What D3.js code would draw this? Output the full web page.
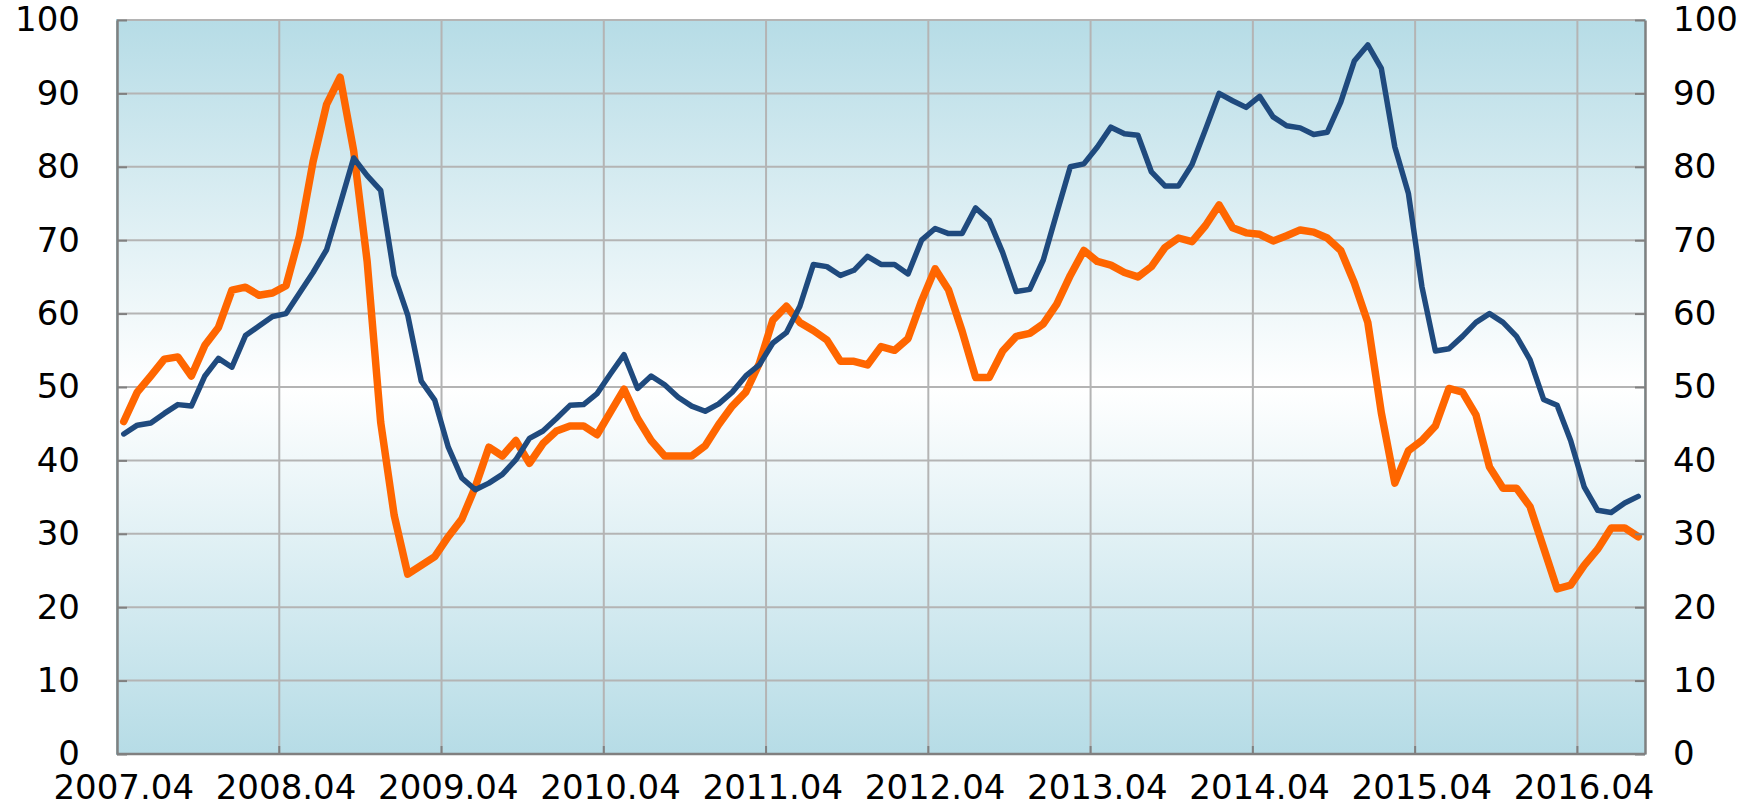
<!DOCTYPE html>
<html>
<head>
<meta charset="utf-8">
<script src="https://cdn.jsdelivr.net/npm/d3@7"></script>
<style>
  body { margin: 0; background: #fff; }
  svg { display: block; }
  text { font-family: "DejaVu Sans", sans-serif; fill: #000; }
</style>
</head>
<body>
<svg></svg>
<script>
// Month categories, 2007.04 .. 2016.08
const categories = d3.timeMonth
  .range(new Date(2007, 3, 1), new Date(2016, 8, 1))
  .map(d3.timeFormat("%Y.%m"));

const tickLabels = ["2007.04", "2008.04", "2009.04", "2010.04", "2011.04",
  "2012.04", "2013.04", "2014.04", "2015.04", "2016.04"];

const yTicks = [0, 10, 20, 30, 40, 50, 60, 70, 80, 90, 100];

// dark blue series
const blueValues = [
  43.6, 44.8, 45.1, 46.4, 47.6, 47.4, 51.5, 53.9, 52.7, 57.0,
  58.3, 59.6, 60.0, 62.8, 65.6, 68.7, 74.9, 81.2, 78.8, 76.8,
  65.2, 59.8, 50.8, 48.2, 41.8, 37.6, 36.0, 36.9, 38.1, 40.1,
  43.0, 44.0, 45.7, 47.5, 47.6, 49.1, 51.8, 54.4, 49.8, 51.5,
  50.3, 48.6, 47.4, 46.7, 47.7, 49.3, 51.5, 53.0, 56.0, 57.4,
  61.0, 66.7, 66.4, 65.2, 65.9, 67.8, 66.7, 66.7, 65.4, 70.0,
  71.6, 70.9, 70.9, 74.4, 72.7, 68.3, 63.0, 63.3, 67.3, 73.7,
  80.0, 80.4, 82.7, 85.4, 84.5, 84.3, 79.3, 77.4, 77.4, 80.3,
  85.1, 90.0, 89.0, 88.1, 89.6, 86.8, 85.6, 85.3, 84.4, 84.7,
  88.8, 94.4, 96.6, 93.4, 82.7, 76.4, 63.7, 54.9, 55.2, 56.9,
  58.8, 60.0, 58.8, 56.9, 53.7, 48.3, 47.5, 42.7, 36.4, 33.2,
  32.9, 34.2, 35.1
];

// orange series
const orangeValues = [
  45.3, 49.3, 51.5, 53.8, 54.1, 51.5, 55.7, 58.1, 63.2, 63.6,
  62.5, 62.8, 63.8, 70.6, 80.7, 88.5, 92.2, 82.2, 67.1, 45.2,
  32.5, 24.5, 25.7, 26.9, 29.6, 32.0, 36.4, 41.8, 40.6, 42.7,
  39.6, 42.3, 44.0, 44.7, 44.7, 43.5, 46.6, 49.7, 45.7, 42.7,
  40.6, 40.6, 40.6, 42.0, 44.9, 47.4, 49.3, 53.2, 59.1, 61.0,
  58.8, 57.7, 56.4, 53.5, 53.5, 53.0, 55.5, 55.0, 56.6, 61.7,
  66.1, 63.2, 57.6, 51.3, 51.3, 54.9, 56.9, 57.3, 58.6, 61.3,
  65.2, 68.6, 67.1, 66.6, 65.6, 65.0, 66.4, 69.0, 70.3, 69.8,
  72.0, 74.8, 71.7, 71.0, 70.8, 69.9, 70.6, 71.4, 71.1, 70.3,
  68.6, 64.2, 58.8, 46.5, 36.9, 41.3, 42.7, 44.7, 49.8, 49.3,
  46.2, 39.1, 36.2, 36.2, 33.7, 28.1, 22.5, 23.0, 25.7, 27.9,
  30.8, 30.8, 29.6
];

const W = 1761, H = 806;
const plot = { l: 117, r: 1645, t: 20, b: 754 };

const svg = d3.select("svg").attr("width", W).attr("height", H);

const x = d3.scaleBand().domain(categories).range([plot.l, plot.r]);
const y = d3.scaleLinear().domain([0, 100]).range([plot.b, plot.t]);

// background gradient
const grad = svg.append("defs").append("linearGradient")
  .attr("id", "bg").attr("x1", 0).attr("y1", 0).attr("x2", 0).attr("y2", 1);
grad.append("stop").attr("offset", "0%").attr("stop-color", "#b6dce6");
grad.append("stop").attr("offset", "50%").attr("stop-color", "#ffffff");
grad.append("stop").attr("offset", "100%").attr("stop-color", "#b6dce6");

svg.append("rect")
  .attr("x", plot.l).attr("y", plot.t)
  .attr("width", plot.r - plot.l).attr("height", plot.b - plot.t)
  .attr("fill", "url(#bg)")
  .attr("stroke", "#a6d6e0").attr("stroke-width", 2);

// grid
svg.append("g").selectAll("line")
  .data(yTicks.slice(1))
  .join("line")
    .attr("x1", plot.l).attr("x2", plot.r)
    .attr("y1", d => y(d)).attr("y2", d => y(d))
    .attr("stroke", "#b4b4b4").attr("stroke-width", 2);

svg.append("g").selectAll("line")
  .data(tickLabels.slice(1))
  .join("line")
    .attr("x1", d => x(d)).attr("x2", d => x(d))
    .attr("y1", plot.t).attr("y2", plot.b)
    .attr("stroke", "#b4b4b4").attr("stroke-width", 2);

// small bottom ticks at grid lines
svg.append("g").selectAll("line")
  .data(tickLabels.slice(1))
  .join("line")
    .attr("x1", d => x(d)).attr("x2", d => x(d))
    .attr("y1", plot.b).attr("y2", plot.b - 8)
    .attr("stroke", "#808080").attr("stroke-width", 2);

// lines
const line = d3.line()
  .x((d, i) => x(categories[i]) + x.bandwidth() / 2)
  .y(d => y(d));

svg.append("path")
  .datum(orangeValues)
  .attr("d", line)
  .attr("fill", "none")
  .attr("stroke", "#ff6600")
  .attr("stroke-width", 7.5)
  .attr("stroke-linejoin", "round")
  .attr("stroke-linecap", "round");

svg.append("path")
  .datum(blueValues)
  .attr("d", line)
  .attr("fill", "none")
  .attr("stroke", "#1f4a7e")
  .attr("stroke-width", 5.5)
  .attr("stroke-linejoin", "round")
  .attr("stroke-linecap", "round");

// axes
const left = svg.append("g")
  .attr("transform", `translate(${plot.l},0)`)
  .call(d3.axisLeft(y).tickValues(yTicks).tickSizeInner(-10).tickSizeOuter(0).tickPadding(37));

const right = svg.append("g")
  .attr("transform", `translate(${plot.r},0)`)
  .call(d3.axisRight(y).tickValues(yTicks).tickSizeInner(-10).tickSizeOuter(0).tickPadding(28));

svg.append("line")
  .attr("x1", plot.l).attr("x2", plot.r)
  .attr("y1", plot.b).attr("y2", plot.b)
  .attr("stroke", "#808080").attr("stroke-width", 2.5);

const bottom = svg.append("g")
  .attr("transform", `translate(0,${plot.b})`)
  .call(d3.axisBottom(x).tickValues(tickLabels).tickSize(0).tickPadding(21));
bottom.select(".domain").remove();

[left, right, bottom].forEach(g => {
  g.selectAll("text").style("font-size", "34px").attr("font-family", null);
  g.selectAll(".tick line").attr("stroke", "#808080").attr("stroke-width", 2);
  g.select(".domain").attr("stroke", "#808080").attr("stroke-width", 2.5);
});
</script>
</body>
</html>
